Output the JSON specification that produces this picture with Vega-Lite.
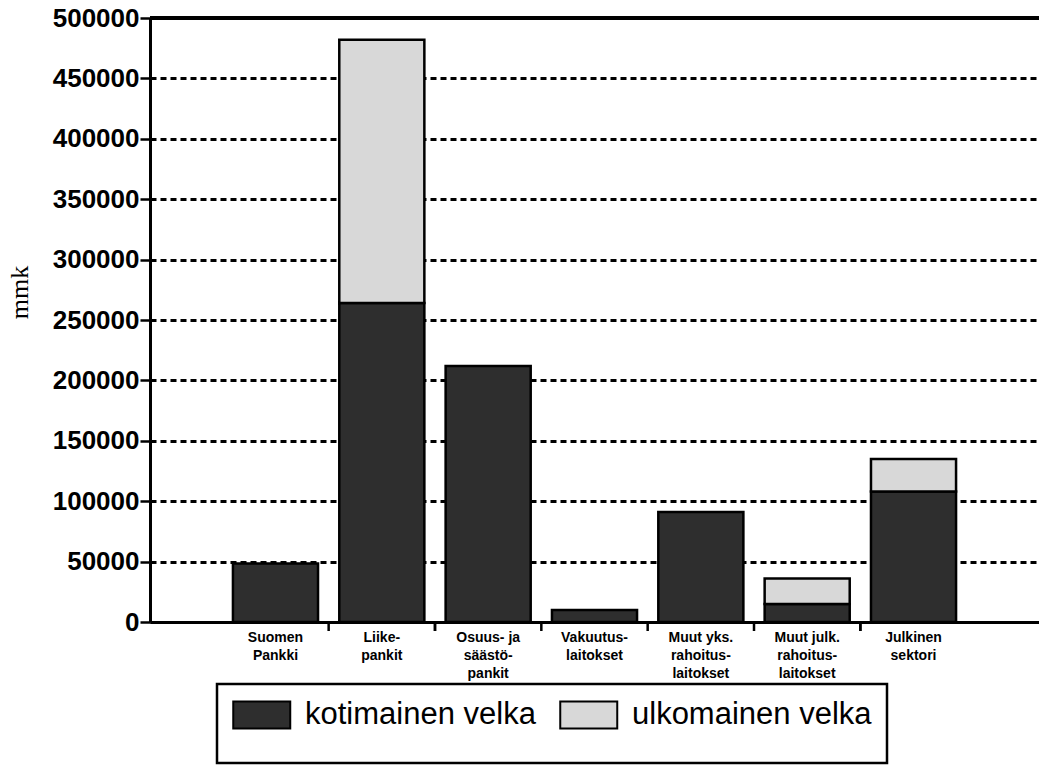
{
  "$schema": "https://vega.github.io/schema/vega-lite/v6.json",
  "autosize": {"type": "none"},
  "padding": {"left": 150, "top": 18, "right": 0, "bottom": 144},
  "width": 889,
  "height": 604,
  "background": "white",
  "config": {"view": {"stroke": null}, "font": "Liberation Sans"},
  "data": {"values": [
    {"cat": "Suomen|Pankki", "type": "kotimainen velka", "value": 48500},
    {"cat": "Liike-|pankit", "type": "kotimainen velka", "value": 264000},
    {"cat": "Liike-|pankit", "type": "ulkomainen velka", "value": 218000},
    {"cat": "Osuus- ja|säästö-|pankit", "type": "kotimainen velka", "value": 212000},
    {"cat": "Vakuutus-|laitokset", "type": "kotimainen velka", "value": 10000},
    {"cat": "Muut yks.|rahoitus-|laitokset", "type": "kotimainen velka", "value": 91000},
    {"cat": "Muut julk.|rahoitus-|laitokset", "type": "kotimainen velka", "value": 15000},
    {"cat": "Muut julk.|rahoitus-|laitokset", "type": "ulkomainen velka", "value": 21000},
    {"cat": "Julkinen|sektori", "type": "kotimainen velka", "value": 108000},
    {"cat": "Julkinen|sektori", "type": "ulkomainen velka", "value": 27000}
  ]},
  "layer": [
    {
      "mark": {"type": "bar", "stroke": "black", "strokeWidth": 2.5},
      "encoding": {
        "x": {
          "field": "cat", "type": "nominal", "sort": null,
          "scale": {"paddingInner": 0.2, "paddingOuter": 0.78},
          "axis": {
            "title": null, "labelAngle": 0, "ticks": false,
            "labelExpr": "split(datum.value, '|')",
            "labelFont": "Liberation Sans", "labelFontWeight": "bold", "labelFontSize": 14,
            "labelLineHeight": 18, "labelColor": "black", "labelPadding": 8,
            "labelBaseline": "top",
            "domainColor": "black", "domainWidth": 3
          }
        },
        "y": {
          "field": "value", "type": "quantitative", "stack": "zero",
          "scale": {"domain": [0, 500000], "nice": false},
          "axis": {
            "title": "mmk", "titleFont": "Liberation Serif", "titleFontSize": 26, "titleFontWeight": "normal",
            "titleColor": "black", "titleAngle": -90, "titleX": -131, "titleY": 274,
            "titleAlign": "center", "titleBaseline": "middle",
            "values": [0, 50000, 100000, 150000, 200000, 250000, 300000, 350000, 400000, 450000, 500000],
            "format": "d", "labelFont": "Liberation Sans", "labelFontSize": 26, "labelFontWeight": "bold",
            "labelColor": "black",
            "labelPadding": 1, "tickSize": 10, "tickColor": "black", "tickWidth": 2.5,
            "domainColor": "black", "domainWidth": 3,
            "grid": true, "gridColor": "black", "gridWidth": 2.8, "gridDash": [6, 4], "gridOpacity": 1
          }
        },
        "order": {"field": "type", "sort": "ascending"},
        "color": {
          "field": "type", "type": "nominal",
          "scale": {"domain": ["kotimainen velka", "ulkomainen velka"], "range": ["#2e2e2e", "#d8d8d8"]},
          "legend": {
            "title": " ", "titleOrient": "bottom", "titleFontSize": 12, "titlePadding": 4,
            "orient": "none", "legendX": 67, "legendY": 666,
            "direction": "horizontal", "columns": 2,
            "strokeColor": "black", "fillColor": "white", "padding": 15,
            "symbolType": "M-1,-0.95H3V0.95H-1Z", "symbolSize": 812,
            "symbolStrokeColor": "black", "symbolStrokeWidth": 2, "symbolOpacity": 1,
            "labelFont": "Liberation Sans", "labelFontSize": 31, "labelColor": "black",
            "labelOffset": 42, "columnPadding": 20, "labelLimit": 400,
            "encode": {"legend": {"update": {"strokeWidth": {"value": 2.5}}}}
          }
        }
      }
    },
    {
      "transform": [{"filter": "datum.cat != 'Julkinen|sektori'"}],
      "mark": {"type": "rule", "color": "black", "strokeWidth": 2.5, "y2Offset": 9},
      "encoding": {
        "x": {"field": "cat", "type": "nominal", "sort": null, "bandPosition": 1.125},
        "y": {"datum": 0},
        "y2": {"datum": 0}
      }
    },
    {
      "mark": {"type": "rule", "color": "black", "strokeWidth": 3},
      "encoding": {"y": {"datum": 500000}}
    }
  ]
}
